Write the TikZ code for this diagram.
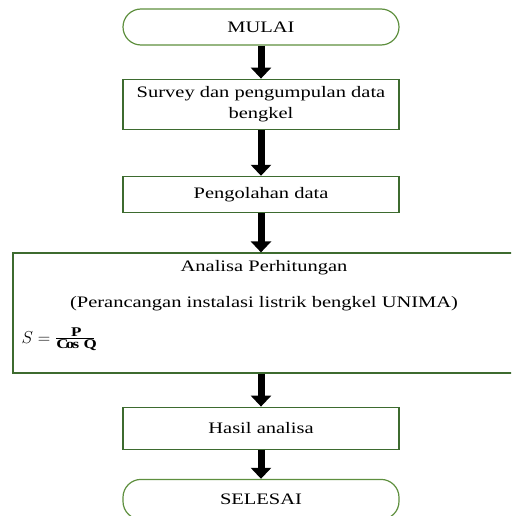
\documentclass[tikz,border=0pt]{standalone}
\usepackage{fontspec}
\setmainfont[FakeStretch=1.28]{Liberation Serif}
\usepackage{xcolor}
\usepackage{tikz}
\usetikzlibrary{positioning,arrows.meta}

\definecolor{boxgreen}{HTML}{3D6B2F}
\definecolor{termgreen}{HTML}{5E8F3E}

\begin{document}
\begin{tikzpicture}[
    x=1pt,y=-1pt,
    boxstyle/.style={draw=boxgreen,line width=1.2pt,minimum width=276pt,align=center,inner sep=0pt,font=\fontsize{16}{21}\selectfont},
    term/.style={boxstyle,draw=termgreen,rounded corners=18pt,minimum height=36pt},
    txt/.style={font=\fontsize{16}{21}\selectfont,inner sep=0pt},
    arr/.style={-{Triangle[width=20pt,length=11pt]},line width=7pt}
]
\clip (0,0) rectangle (511,516);
\node[term] (mulai) at (261,27) {MULAI};
\node[boxstyle,minimum height=50pt,below=33pt of mulai] (survey) {Survey dan pengumpulan data\\ bengkel};
\node[boxstyle,minimum height=36pt,below=46pt of survey] (olah) {Pengolahan data};
\node[boxstyle,minimum width=502pt,minimum height=120pt] (analisa) at (264,313) {};
\node[txt,anchor=base] (judul) at ([yshift=-19pt]analisa.north) {Analisa Perhitungan};
\node[txt,anchor=base] (rancang) at ([yshift=-55pt]analisa.north) {(Perancangan instalasi listrik bengkel UNIMA)};
\node[txt,anchor=base west,font=\fontsize{19}{22}\selectfont] (rumus) at ([xshift=9pt,yshift=-30pt]analisa.west) {$S=\frac{\mathbf{P}}{\mathbf{Cos\ Q}}$};
\node[boxstyle,minimum height=42pt,below=33pt of analisa.south -| mulai] (hasil) {Hasil analisa};
\node[term,minimum height=40pt,below=29pt of hasil] (selesai) {SELESAI};

\draw[arr] (mulai) -- (survey);
\draw[arr] (survey) -- (olah);
\draw[arr] (olah.south) -- (olah.south |- analisa.north);
\draw[arr] (hasil.north |- analisa.south) -- (hasil.north);
\draw[arr] (hasil) -- (selesai);
\end{tikzpicture}
\end{document}
